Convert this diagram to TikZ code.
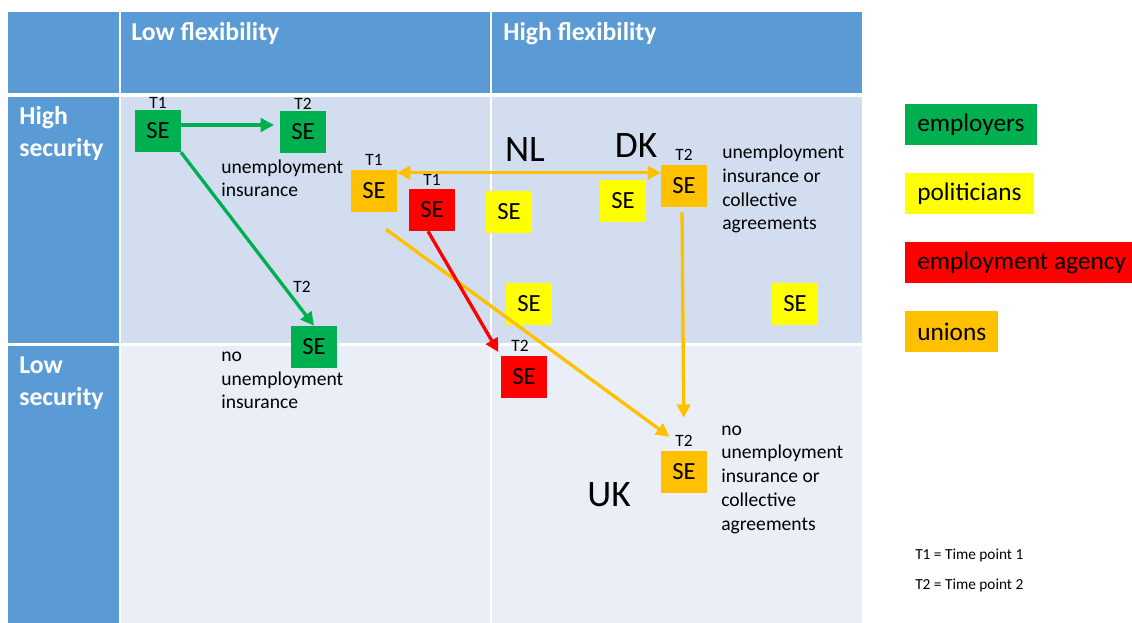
\documentclass[tikz,border=0pt]{standalone}
\usepackage{fontspec}
\setmainfont{Carlito}
\usetikzlibrary{positioning,arrows.meta}

\definecolor{hdrblue}{HTML}{5B9BD5}
\definecolor{bandhigh}{HTML}{D2DEEF}
\definecolor{bandlow}{HTML}{EAEFF7}
\definecolor{empgreen}{HTML}{00B050}
\definecolor{polyellow}{HTML}{FFFF00}
\definecolor{agencyred}{HTML}{FF0000}
\definecolor{unionorange}{HTML}{FFC000}

\tikzstyle{header} = [anchor=base west, inner sep=0pt, align=left, text=white, font=\bfseries\fontsize{19.3}{24}\selectfont]
\tikzstyle{sebox} = [rectangle, minimum width=34pt, minimum height=31.5pt, inner sep=0pt, font=\fontsize{18.5}{20}\selectfont]
\tikzstyle{tpoint} = [inner sep=0pt, font=\fontsize{13}{14}\selectfont]
\tikzstyle{notetext} = [anchor=base west, inner sep=0pt, align=left, font=\fontsize{14.7}{17.8}\selectfont]
\tikzstyle{country} = [inner sep=0pt, font=\fontsize{28}{32}\selectfont]
\tikzstyle{legendbox} = [anchor=west, minimum height=30.75pt, inner xsep=9pt, inner ysep=0pt, font=\fontsize{19}{22}\selectfont]
\tikzstyle{timekey} = [anchor=base west, inner sep=0pt, font=\fontsize{11.5}{13}\selectfont]
\tikzstyle{arrow} = [line width=2.5pt, ->, >={Triangle[length=10pt,width=10pt]}]

\begin{document}
\begin{tikzpicture}[x=0.75pt, y=-0.75pt]
  \useasboundingbox (0,0) rectangle (1132,623);

  \fill [hdrblue] (8,12) rectangle (119,93);
  \fill [hdrblue] (121,12) rectangle (490,93);
  \fill [hdrblue] (492,12) rectangle (862,93);
  \fill [hdrblue] (8,97) rectangle (119,343);
  \fill [bandhigh] (121,97) rectangle (490,343);
  \fill [bandhigh] (492,97) rectangle (862,343);
  \fill [hdrblue] (8,346) rectangle (119,623);
  \fill [bandlow] (121,346) rectangle (490,623);
  \fill [bandlow] (492,346) rectangle (862,623);

  \node (lowflex) [header] at (131,41) {Low flexibility};
  \node (highflex) [header] at (503,41) {High flexibility};
  \node (highsec) [header] at (19,157) {High\\security};
  \node (lowsec) [header] at (19,406) {Low\\security};

  \node (emp1) [sebox, fill=empgreen] at (158,131) {SE};
  \node (emp2) [sebox, fill=empgreen] at (303,132) {SE};
  \node (emp3) [sebox, fill=empgreen] at (314,347) {SE};
  \node (uni1) [sebox, fill=unionorange] at (374,191) {SE};
  \node (uni2) [sebox, fill=unionorange] at (684,186) {SE};
  \node (uni3) [sebox, fill=unionorange] at (684,472) {SE};
  \node (age1) [sebox, fill=agencyred] at (432,210) {SE};
  \node (age2) [sebox, fill=agencyred] at (524,377) {SE};
  \node (pol1) [sebox, fill=polyellow] at (509,212) {SE};
  \node (pol2) [sebox, fill=polyellow] at (623,201) {SE};
  \node (pol3) [sebox, fill=polyellow] at (529,304) {SE};
  \node (pol4) [sebox, fill=polyellow] at (795,304) {SE};

  \node (emp1t) [tpoint, above=1pt of emp1] {T1};
  \node (emp2t) [tpoint, above=1pt of emp2] {T2};
  \node (emp3t) [tpoint] at (302,287) {T2};
  \node (uni1t) [tpoint, above=3pt of uni1] {T1};
  \node (uni2t) [tpoint, above=3pt of uni2] {T2};
  \node (uni3t) [tpoint, above=3pt of uni3] {T2};
  \node (age1t) [tpoint, above=2pt of age1] {T1};
  \node (age2t) [tpoint, above=3pt of age2, xshift=-3pt] {T2};

  \node (nl) [country] at (525,150) {NL};
  \node (dk) [country] at (636,146) {DK};
  \node (uk) [country] at (609,495) {UK};

  \node (uiemp) [notetext] at (221,197) {unemployment\\insurance};
  \node (nouiemp) [notetext] at (221,409) {no\\unemployment\\insurance};
  \node (uidk) [notetext] at (722,230) {unemployment\\insurance or\\collective\\agreements};
  \node (nouiuk) [notetext] at (721,530) {no\\unemployment\\insurance or\\collective\\agreements};

  \draw [arrow, empgreen, shorten >=4.5pt] ([yshift=4.5pt]emp1.east) -- ([yshift=4.5pt]emp1.east -| emp2.west);
  \draw [arrow, empgreen] (emp1.south east) -- (emp3.north);
  \draw [arrow, unionorange, <->] ([yshift=-2.25pt]uni1.north east) -- ([yshift=-2.25pt]uni1.north east -| uni2.west);
  \draw [arrow, unionorange] ([shift={(9pt,-12.75pt)}]uni1.south) -- ([shift={(-10.9pt,10.5pt)}]uni3.north);
  \draw [arrow, agencyred] ([xshift=-3pt]age1.south) -- ([shift={(-2pt,2.75pt)}]age2.north west);
  \draw [arrow, unionorange, shorten <=3.5pt, shorten >=24.75pt] ([xshift=-1.5pt]uni2.south) -- (uni3.north);

  \node (legemp) [legendbox, fill=empgreen] at (905,124.5) {employers};
  \node (legpol) [legendbox, fill=polyellow] at (905,193.5) {politicians};
  \node (legage) [legendbox, fill=agencyred] at (905,262.5) {employment agency};
  \node (leguni) [legendbox, fill=unionorange] at (905,331.5) {unions};

  \node (keyt1) [timekey] at (915,559) {T1 = Time point 1};
  \node (keyt2) [timekey] at (915,589) {T2 = Time point 2};
\end{tikzpicture}
\end{document}
